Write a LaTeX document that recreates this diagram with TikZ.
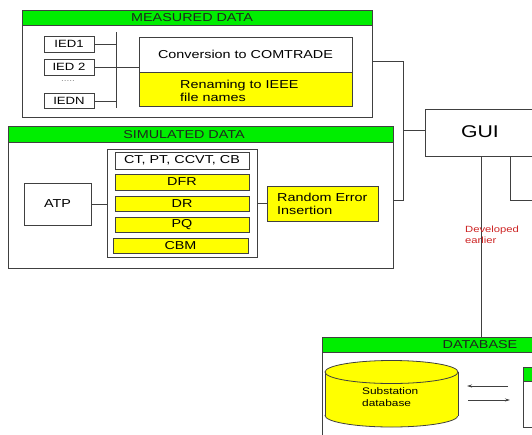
\documentclass[tikz,border=0pt]{standalone}
\usepackage{fontspec}
\setmainfont[FakeStretch=1.25]{Liberation Sans}
\usetikzlibrary{arrows.meta}
\definecolor{hdrgreen}{RGB}{0,238,0}
\definecolor{boxyellow}{RGB}{255,255,0}
\definecolor{linecol}{RGB}{64,64,64}
\definecolor{devred}{RGB}{205,35,35}
\definecolor{titlecol}{RGB}{30,40,30}
\begin{document}
\begin{tikzpicture}[x=1pt,y=-1pt,
  box/.style={draw=linecol, line width=0.8pt, fill=white, inner sep=0pt, outer sep=0pt,
    font=\fontsize{11.5}{13}\selectfont},
  hdr/.style={box, fill=hdrgreen},
  ybox/.style={box, fill=boxyellow},
  txt/.style={inner sep=0pt, font=\fontsize{11.5}{13}\selectfont, align=left},
  ttl/.style={txt, text=titlecol},
  conn/.style={draw=linecol, line width=0.8pt},
  arr/.style={conn, -{Stealth[length=5pt,width=3pt]}}]
\useasboundingbox (0,0) rectangle (532,434);
\clip (0,0) rectangle (532,434);

% ---------- Measured data ----------
\node[box, minimum width=350, minimum height=92] (mbody) at (197.8,71) {};
\node[hdr, minimum width=350, minimum height=15] (mhdr) at (197.8,17.5) {};
\node[ttl] (mtitle) at (192,18) {MEASURED DATA};

\node[box, minimum width=50, minimum height=16, font=\fontsize{10.5}{12}\selectfont] (ied1) at (69,44) {IED1};
\node[box, minimum width=50, minimum height=16, font=\fontsize{10.5}{12}\selectfont] (ied2) at (69,67) {IED 2};
\node[txt, text=gray, font=\fontsize{8}{9}\selectfont] (dots) at (68,81) {.....};
\node[box, minimum width=50, minimum height=15, font=\fontsize{10.5}{12}\selectfont] (iedn) at (69,101) {IEDN};
\coordinate (bartop) at (116,32);
\coordinate (barbot) at (116,108);
\coordinate (barmid) at (116,67);
\draw[conn] (bartop) -- (barbot);
\draw[conn] (ied1.east) -- (ied1.east -| bartop);
\draw[conn] (ied2.east) -- (ied2.east -| bartop);
\draw[conn] (iedn.east) -- (iedn.east -| bartop);

\node[box, minimum width=213, minimum height=35] (conv) at (245.5,54.5) {Conversion to COMTRADE};
\node[ybox, minimum width=213, minimum height=34] (ren) at (245.5,89) {};
\node[txt, anchor=west] (rentext) at (180,90.5) {Renaming to IEEE\\file names};
\draw[conn] (barmid) -- (barmid -| conv.west);

% ---------- Simulated data ----------
\node[box, minimum width=385, minimum height=126] (sbody) at (200.5,205) {};
\node[hdr, minimum width=385, minimum height=16] (shdr) at (200.5,134) {};
\node[ttl] (stitle) at (184,134.5) {SIMULATED DATA};

\node[box, minimum width=67, minimum height=42] (atp) at (57.5,204) {ATP};
\node[box, minimum width=150, minimum height=108] (grp) at (182,203) {};
\node[box, minimum width=134, minimum height=17] (ct) at (182,160.5) {CT, PT, CCVT, CB};
\node[ybox, minimum width=134, minimum height=16] (dfr) at (182,182) {DFR};
\node[ybox, minimum width=134, minimum height=15] (dr) at (182,203.5) {DR};
\node[ybox, minimum width=134, minimum height=15] (pq) at (182,224.5) {PQ};
\node[ybox, minimum width=135, minimum height=15] (cbm) at (180.5,245.5) {CBM};
\node[ybox, minimum width=111, minimum height=35] (rei) at (322.5,203.5) {};
\node[txt, anchor=west] (reitext) at (277,203.5) {Random Error\\Insertion};
\draw[conn] (atp.east) -- (atp.east -| grp.west);
\draw[conn] (grp.east |- rei.west) -- (rei.west);

% ---------- bus to GUI ----------
\coordinate (bus1) at (403,61);
\coordinate (bus2) at (403,200.7);
\coordinate (busg) at (403,130.7);
\draw[conn] (mbody.east |- bus1) -- (bus1) -- (bus2) -- (sbody.east |- bus2);

\node[box, minimum width=120, minimum height=47, anchor=north west] (gui) at (425,109) {};
\node[txt, font=\fontsize{17}{19}\selectfont] (guitext) at (480,131.5) {GUI};
\draw[conn] (busg) -- (busg -| gui.west);

% ---------- database ----------
\node[hdr, minimum width=316, minimum height=15, anchor=north west] (dbhdr) at (322,337) {};
\node[box, minimum width=316, minimum height=120, anchor=north west] (dbbody) at (322,352) {};
\node[ttl] (dbtitle) at (480,345) {DATABASE};

\coordinate (guiout) at (481,156);
\draw[conn] (guiout) -- (guiout |- dbhdr.north);
\coordinate (guiout2) at (510.7,156);
\coordinate (turn) at (510.7,200);
\coordinate (offr) at (545,200);
\draw[conn] (guiout2) -- (turn) -- (offr);

\node[txt, anchor=west, text=devred, font=\fontsize{9}{10.5}\selectfont] (dev) at (465,235) {Developed\\earlier};

% cylinder
\fill[boxyellow, draw=linecol, line width=0.8pt] (391.5,415.5) ellipse [x radius=66.5, y radius=11.5];
\fill[boxyellow] (325,372) rectangle (458,415.5);
\draw[conn] (325,372) -- (325,415.5);
\draw[conn] (458,372) -- (458,415.5);
\fill[boxyellow, draw=linecol, line width=0.8pt] (391.5,372) ellipse [x radius=66.5, y radius=11.5];
\node[txt, anchor=west, font=\fontsize{9.5}{12}\selectfont] (subdb) at (362,397) {Substation\\database};

\node[hdr, minimum width=40, minimum height=14, anchor=north west] (rhdr) at (523,367) {};
\node[box, minimum width=40, minimum height=46, anchor=north west] (rbody) at (523,381) {};

\coordinate (a1s) at (508,386);
\coordinate (a1e) at (467,386);
\coordinate (a2s) at (468,400);
\coordinate (a2e) at (510,400);
\draw[arr] (a1s) -- (a1e);
\draw[arr] (a2s) -- (a2e);
\end{tikzpicture}
\end{document}
